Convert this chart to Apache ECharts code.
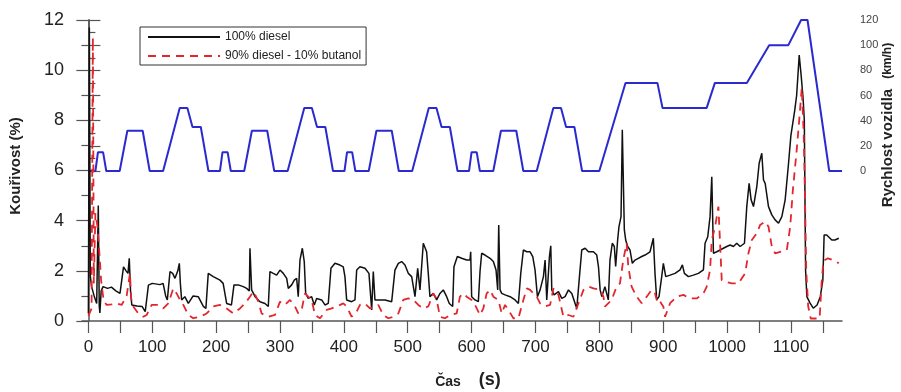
<!DOCTYPE html>
<html>
<head>
<meta charset="utf-8">
<script src="https://cdn.jsdelivr.net/npm/echarts@6/dist/echarts.min.js"></script>
<style>
html,body{margin:0;padding:0;background:#fff;}
#chart{width:901px;height:392px;}
</style>
</head>
<body>
<div id="chart"></div>
<script>
// Time ticks / labels
var xTickValues = [0,50,100,150,200,250,300,350,400,450,500,550,600,650,700,750,800,850,900,950,1000,1050,1100,1150];
var xLabelValues = [0,100,200,300,400,500,600,700,800,900,1000,1100];

// Vehicle speed (NEDC), [time s, km/h]
var speedData = [
[0,0],[11,0],[15,15],[23,15],[28,0],[49,0],[61,32],[85,32],[96,0],[117,0],[143,50],[155,50],[163,35],[176,35],[188,0],
[206,0],[210,15],[218,15],[223,0],[244,0],[256,32],[280,32],[291,0],[312,0],[338,50],[350,50],[358,35],[371,35],[383,0],
[401,0],[405,15],[413,15],[418,0],[439,0],[451,32],[475,32],[486,0],[507,0],[533,50],[545,50],[553,35],[566,35],[578,0],
[596,0],[600,15],[608,15],[613,0],[634,0],[646,32],[670,32],[681,0],[702,0],[728,50],[740,50],[748,35],[761,35],[773,0],
[800,0],[841,70],[891,70],[899,50],[968,50],[981,70],[1031,70],[1066,100],[1096,100],[1116,120],[1126,120],[1160,0],[1180,0]
];

// Smoke opacity, 100% diesel, [time s, %]
var dieselData = [
[0,0.3],[1.5,11.7],[3,1.8],[5,1.37],[9,1.0],[13,0.7],[15.5,4.6],[17,0.6],[18,0.32],[20,1.2],[23,1.37],[30,1.3],[36,1.35],[43,1.2],[49.5,1.1],[55,2.16],[59,2.0],[62,1.9],[64,2.5],[66,1.2],[68,0.64],[76,0.6],[84,0.58],[89,0.37],[92,0.4],[94,1.43],[100,1.5],[112,1.45],[117,1.5],[121,1.0],[123.6,0.84],[127.8,1.97],[132,1.9],[135.6,1.7],[140,2.0],[142.4,2.3],[144,1.5],[146,0.84],[151,0.97],[156.5,0.7],[164,1.0],[172,0.97],[180,0.58],[184,0.5],[187.7,1.9],[195.6,1.77],[206,1.63],[211,1.5],[216.5,0.7],[224,0.64],[228,1.44],[234.7,1.44],[242.5,1.37],[247.8,1.3],[252,1.2],[253,2.9],[255.6,1.24],[261,0.97],[268.7,0.77],[276.5,0.7],[281.7,0.58],[284.3,1.97],[289.5,1.9],[294.8,1.83],[300,2.03],[305.2,1.9],[310.5,1.7],[313,1.3],[318.3,1.44],[322.4,1.63],[326.1,1.7],[328.6,0.97],[331.3,2.43],[335,2.9],[338,2.37],[340.2,1.1],[344.3,0.9],[349.6,0.97],[353.7,0.64],[357.4,0.9],[365.3,0.84],[370.4,0.64],[375.6,0.7],[379.8,2.1],[386.1,2.3],[393.9,2.23],[399.1,2.16],[401.7,1.77],[404.4,0.84],[412.2,0.77],[417.4,0.84],[420.1,2.03],[425.2,2.16],[433.1,2.1],[439.3,1.9],[443.6,0.44],[446.1,1.97],[448.7,0.84],[453.9,0.84],[464.4,0.84],[474.9,0.77],[480,2.03],[485.3,2.3],[490.5,2.37],[495.7,2.23],[500.9,1.9],[506.2,1.77],[511.4,0.97],[515.6,2.1],[519.2,1.24],[524.4,3.1],[529.6,2.76],[532.2,1.9],[534.8,0.97],[540,1.1],[545.3,0.84],[550.5,1.1],[555.7,1.24],[561,0.97],[565.1,0.7],[570.4,0.58],[572.4,2.16],[577.7,2.57],[584.5,2.5],[592.3,2.43],[597.5,2.43],[598.6,2.76],[600.1,0.97],[605.4,0.84],[610.6,0.77],[613.2,1.97],[615.8,2.7],[621,2.63],[628.9,2.5],[634.1,2.37],[638.3,2.03],[640.9,1.24],[642.5,3.83],[644.6,1.24],[647.2,1.1],[652.4,1.04],[660.3,0.97],[668.1,0.84],[673.3,0.7],[677,1.9],[681.1,2.83],[686.4,2.76],[691.6,2.76],[695.8,2.57],[699.4,2.03],[703.1,0.97],[707.3,1.24],[712.5,1.77],[715.1,2.43],[717.7,0.84],[721.9,2.57],[724,3.0],[725.6,1.24],[729.2,1.04],[736,1.17],[741.2,0.9],[746.4,0.97],[751.7,1.24],[756.9,1.1],[762.1,0.7],[764.7,0.5],[768.9,1.77],[772.5,2.83],[777.8,2.9],[783,2.76],[790.8,2.76],[796,2.63],[798.7,2.16],[801.3,1.24],[803.9,0.97],[808.8,1.37],[814.1,0.84],[816.7,2.43],[820.3,3.1],[823.5,2.97],[825.6,2.17],[828.7,3.23],[830.8,3.76],[834,4.16],[836,7.62],[839.2,3.63],[841.3,3.23],[844.4,2.97],[848.1,2.83],[851.7,2.3],[855.9,2.43],[861.1,2.5],[866.4,2.57],[871.6,2.63],[879.4,2.76],[884.6,3.3],[887.2,1.9],[889.9,0.84],[893.5,0.97],[897.7,1.77],[900.3,2.3],[904,1.77],[910.8,1.83],[918.6,1.9],[926.4,2.04],[930.1,2.24],[933.2,1.9],[939.5,1.77],[947.3,1.83],[955.1,1.9],[963,2.04],[965.6,3.1],[969.8,3.36],[973.4,4.16],[975,4.23],[976.1,5.75],[978.7,2.7],[983.9,2.76],[989.1,2.83],[994.3,2.9],[999.6,2.97],[1004.8,3.03],[1010,2.97],[1015.2,3.1],[1020.5,2.97],[1027.3,3.1],[1030.9,4.56],[1034.6,5.49],[1037.7,4.83],[1041.4,4.56],[1046.6,5.36],[1050.3,6.29],[1054.4,6.69],[1057.1,5.62],[1059.7,5.49],[1064.9,4.56],[1070.1,4.23],[1075.3,4.03],[1080.6,3.9],[1085.8,4.16],[1091,4.83],[1096,6.2],[1100,7.4],[1103,7.9],[1106,8.4],[1109,9.0],[1113,10.6],[1116,9.8],[1119,8.9],[1121,8.0],[1123,2.0],[1125,0.97],[1130,0.71],[1135,0.51],[1141,0.64],[1146,0.97],[1150,1.63],[1152,3.43],[1156,3.43],[1164,3.23],[1169,3.23],[1175,3.3]
];

// Smoke opacity, 90% diesel - 10% butanol, [time s, %]
var butanolData = [
[0,0.2],[5,0.5],[7,11.3],[8.5,1.5],[11,4.3],[14,3.8],[17,2.8],[20,1.6],[24,0.8],[28.6,0.64],[36,0.66],[44.3,0.7],[52.1,0.64],[59.9,1.0],[65.1,1.9],[67,0.9],[70.3,0.58],[78.2,0.3],[86,0.17],[91.2,0.24],[99.1,0.64],[109.5,0.64],[117.3,0.5],[125.1,0.7],[133,1.3],[138.2,1.1],[143.4,0.84],[148.7,0.64],[156.5,0.24],[164.3,0.11],[174.8,0.17],[185.2,0.3],[195.6,0.58],[206.1,0.64],[216.5,0.5],[226.9,0.3],[237.4,0.5],[245.2,0.7],[253,0.97],[258.3,1.17],[262,1.0],[266.1,0.77],[271.3,0.3],[281.7,0.17],[292.2,0.24],[300,0.77],[307.8,0.64],[315.7,0.84],[323.5,0.58],[328.6,0.3],[333.9,0.44],[339.1,1.1],[344.3,0.97],[349.6,0.84],[354.8,0.24],[362.6,0.11],[373,0.44],[380.9,0.5],[388.7,0.58],[399.1,0.7],[404.4,0.58],[412.2,0.17],[420.1,0.37],[425.2,0.64],[433.1,0.7],[440.9,0.5],[448.7,0.58],[453.9,0.64],[461.8,0.24],[469.6,0.11],[477.4,0.17],[485.3,0.3],[493.1,0.84],[500.9,0.9],[508.8,0.84],[516.6,0.64],[524.4,0.5],[532.2,0.58],[540.1,1.1],[545,0.9],[550.5,0.17],[558.3,0.11],[566.1,0.24],[576.6,0.3],[581.8,0.97],[587.1,1.1],[592.3,0.97],[600.1,0.84],[605.4,0.64],[613.2,0.24],[618.4,0.5],[623.6,1.1],[628.9,1.24],[634.1,0.97],[641.9,0.84],[647.2,0.3],[652.4,0.64],[657.6,0.44],[665.5,0.11],[673.3,0.11],[681.1,0.84],[686.4,1.3],[691.6,1.24],[702,0.97],[707.3,0.7],[715.1,0.58],[722.9,0.64],[728.2,1.3],[736,1.04],[743.8,0.17],[751.7,0.24],[759.5,0.17],[767.3,0.7],[775.2,1.24],[783,1.37],[790.8,1.3],[801.3,1.24],[806.5,0.97],[808.8,0.57],[819.3,0.84],[827.1,1.37],[832.3,1.5],[837.5,2.43],[842.8,3.1],[845.4,2.17],[850.6,1.37],[858.5,0.97],[866.4,0.71],[874.2,0.97],[882,1.24],[887.2,1.1],[891.4,0.71],[895.1,0.78],[900.3,0.57],[903,0.17],[910.8,0.71],[921.2,0.97],[931.7,1.04],[942.1,0.9],[952.6,0.9],[963,1.1],[968.2,1.37],[973.4,2.04],[976.1,3.23],[981.3,3.76],[986.5,4.56],[989.1,3.1],[991.7,1.63],[997,1.57],[1007.4,1.5],[1017.8,1.5],[1028.3,1.9],[1033.5,2.7],[1038.8,3.23],[1046.6,3.5],[1051.8,3.83],[1059.7,3.96],[1064.9,3.76],[1070.1,2.97],[1075.3,2.7],[1083.2,2.76],[1093.6,2.83],[1098.9,3.76],[1103,5.2],[1109,6.8],[1113,8.0],[1117,9.3],[1120,7.5],[1122,5.0],[1124,2.0],[1127,0.6],[1131,0.1],[1145,0.1],[1148,1.5],[1151,2.4],[1158,2.5],[1166,2.43],[1175,2.3]
];

var seriesNames = ['100% diesel', '90% diesel - 10% butanol', 'Rychlost vozidla'];

var chart = echarts.init(document.getElementById('chart'), null, {renderer: 'canvas'});
var axisGrey = '#555';
var FONT = '"Liberation Sans", Arial, sans-serif';

var option = {
  backgroundColor: '#fff',
  animation: false,
  textStyle: {fontFamily: FONT},
  grid: [
    {left: 82, right: 59, top: 20, bottom: 71},
    {left: 82, right: 59, top: 20, height: 151}
  ],
  legend: {
    data: [seriesNames[0], seriesNames[1]],
    orient: 'vertical',
    left: 140, top: 27,
    itemWidth: 72, itemHeight: 12, itemGap: 7,
    padding: [4, 5, 3, 7],
    borderColor: '#333', borderWidth: 1,
    backgroundColor: '#fff',
    itemStyle: {opacity: 0},
    textStyle: {fontSize: 12, color: '#222', fontFamily: FONT}
  },
  xAxis: [
    {
      type: 'value', gridIndex: 0, min: -10, max: 1180,
      axisLine: {show: true, onZero: false, lineStyle: {color: axisGrey, width: 1.5}},
      axisTick: {show: true, customValues: xTickValues, length: 12, lineStyle: {color: axisGrey, width: 1.2}},
      axisLabel: {customValues: xLabelValues, fontSize: 17, color: '#222', margin: 18,
        formatter: function (v) { return String(v); }},
      splitLine: {show: false}
    },
    {
      type: 'value', gridIndex: 1, min: -10, max: 1180, show: false
    }
  ],
  yAxis: [
    {
      type: 'value', gridIndex: 0, min: 0, max: 12, interval: 2,
      axisLine: {show: true, lineStyle: {color: axisGrey, width: 1.5}},
      axisTick: {show: true, length: 12, lineStyle: {color: axisGrey, width: 1.2}},
      minorTick: {show: true, splitNumber: 2, length: 7, lineStyle: {color: axisGrey, width: 1.2}},
      axisLabel: {fontSize: 18, color: '#222', margin: 18},
      splitLine: {show: false}
    },
    {
      type: 'value', gridIndex: 1, position: 'right', min: 0, max: 120, interval: 20,
      axisLine: {show: true, lineStyle: {color: axisGrey, width: 1.5}},
      axisTick: {show: true, length: 12, lineStyle: {color: axisGrey, width: 1.2}},
      minorTick: {show: true, splitNumber: 2, length: 7, lineStyle: {color: axisGrey, width: 1.2}},
      axisLabel: {fontSize: 11, color: '#444', margin: 18},
      splitLine: {show: false}
    }
  ],
  graphic: [
    {type: 'text', x: 16, y: 166, rotation: Math.PI / 2,
     style: {text: 'Kouřivost (%)', font: 'bold 15px ' + FONT, fill: '#222', align: 'center', verticalAlign: 'middle'}},
    {type: 'text', x: 888, y: 125, rotation: Math.PI / 2,
     style: {text: '{a|Rychlost vozidla}{b|(km/h)}', align: 'center', verticalAlign: 'middle', fill: '#222',
       rich: {a: {font: 'bold 15px ' + FONT, fill: '#222'}, b: {font: 'bold 12px ' + FONT, fill: '#222', padding: [0, 0, 0, 10]}}}},
    {type: 'text', x: 468, y: 380,
     style: {text: '{a|Čas}{b|(s)}', align: 'center', verticalAlign: 'middle', fill: '#222',
       rich: {a: {font: 'bold 14px ' + FONT, fill: '#222', padding: [5, 0, 0, 0]}, b: {font: 'bold 18px ' + FONT, fill: '#222', padding: [0, 0, 0, 18]}}}}
  ],
  series: [
    {
      name: seriesNames[2], type: 'line', xAxisIndex: 1, yAxisIndex: 1,
      data: speedData, symbol: 'none', silent: true,
      lineStyle: {color: '#2a2ad0', width: 2}, itemStyle: {color: '#2a2ad0'}, z: 3
    },
    {
      name: seriesNames[0], type: 'line', xAxisIndex: 0, yAxisIndex: 0,
      data: dieselData, symbol: 'none',
      lineStyle: {color: '#111', width: 1.5}, itemStyle: {color: '#111'}, z: 4
    },
    {
      name: seriesNames[1], type: 'line', xAxisIndex: 0, yAxisIndex: 0,
      data: butanolData, symbol: 'none',
      lineStyle: {color: '#e3262d', width: 1.8, type: [8, 6]}, itemStyle: {color: '#e3262d'}, z: 5
    }
  ]
};
chart.setOption(option);
</script>
</body>
</html>
